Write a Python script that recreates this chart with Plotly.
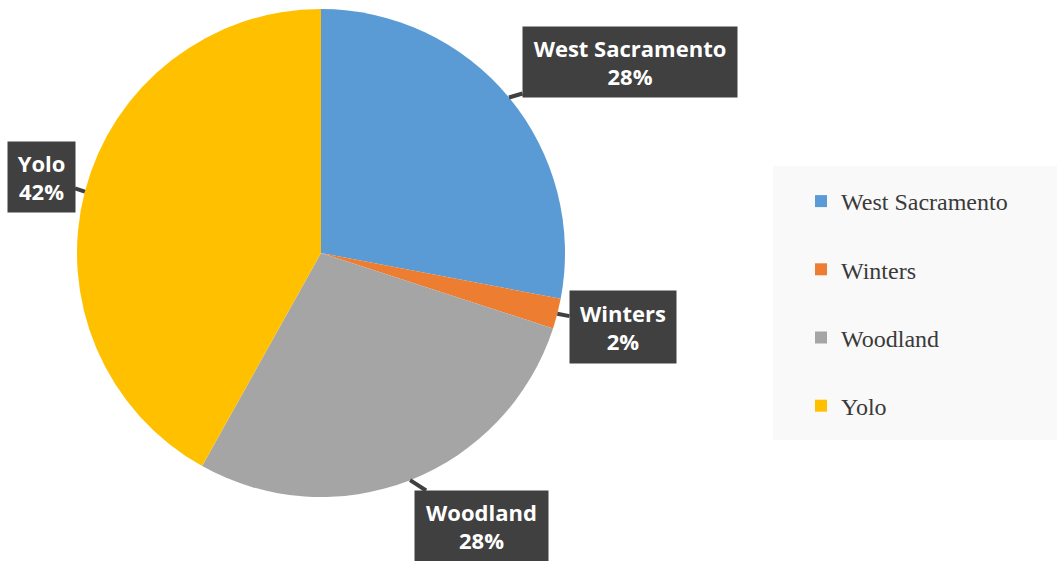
import math
import plotly.graph_objects as go

labels = ["West Sacramento", "Winters", "Woodland", "Yolo"]
values = [28.0, 2.0, 28.1, 41.9]
colors = ["#5B9BD5", "#ED7D31", "#A5A5A5", "#FFC000"]
pct_text = ["28%", "2%", "28%", "42%"]

W, H = 1057, 561
# pie geometry (pixels)
cx, cy, R = 321, 253, 244

def px(x):
    return x / W

def py(y):
    return 1 - y / H

fig = go.Figure()
fig.add_trace(go.Pie(
    labels=labels, values=values, sort=False, direction="clockwise", rotation=0,
    marker=dict(colors=colors, line=dict(width=0)),
    textinfo="none", hoverinfo="label+percent", showlegend=False,
    domain=dict(x=[px(cx - R), px(cx + R)], y=[py(cy + R), py(cy - R)]),
))

# legend entries
for lab, col in zip(labels, colors):
    fig.add_trace(go.Scatter(
        x=[None], y=[None], mode="markers", name=lab, legendgroup=lab,
        marker=dict(symbol="square", size=12, color=col), showlegend=True,
    ))

# label box layout (center px, width, height)
boxes = [(630, 62, 214, 70), (623, 327, 106, 72), (481, 526, 133, 70), (41, 177, 67, 70)]

total = sum(values)
cum = 0
annotations = []
for lab, v, t, (bx, by, bw, bh) in zip(labels, values, pct_text, boxes):
    mid = (cum + v / 2) / total * 2 * math.pi
    cum += v
    tx = cx + R * math.sin(mid)
    ty = cy - R * math.cos(mid)
    annotations.append(dict(
        x=px(tx), y=py(ty), xref="paper", yref="paper",
        ax=bx - tx, ay=by - ty, axref="pixel", ayref="pixel",
        text=f"<b>{lab}<br>{t}</b>", showarrow=True, arrowhead=0,
        arrowwidth=4, arrowcolor="#404040", standoff=0,
        bgcolor="#404040", borderpad=0, width=bw, height=bh,
        font=dict(family="Open Sans", size=22, color="white"),
        align="center", valign="middle",
    ))

fig.update_layout(
    width=W, height=H, margin=dict(l=0, r=0, t=0, b=0),
    paper_bgcolor="white", plot_bgcolor="rgba(0,0,0,0)",
    xaxis=dict(visible=False), yaxis=dict(visible=False),
    annotations=annotations,
    shapes=[dict(type="rect", xref="paper", yref="paper",
                 x0=px(773), x1=1, y0=py(440), y1=py(166),
                 fillcolor="#F9F9F9", line=dict(width=0), layer="below")],
    legend=dict(x=px(801), y=py(179), xanchor="left", yanchor="top",
                bgcolor="rgba(0,0,0,0)", tracegroupgap=34,
                font=dict(family="Liberation Serif", size=24, color="#3A3A3A")),
    showlegend=True,
)

fig.write_html("out.html", config={"displayModeBar": False},
               post_script="document.body.style.margin='0';document.body.style.overflow='hidden';")
